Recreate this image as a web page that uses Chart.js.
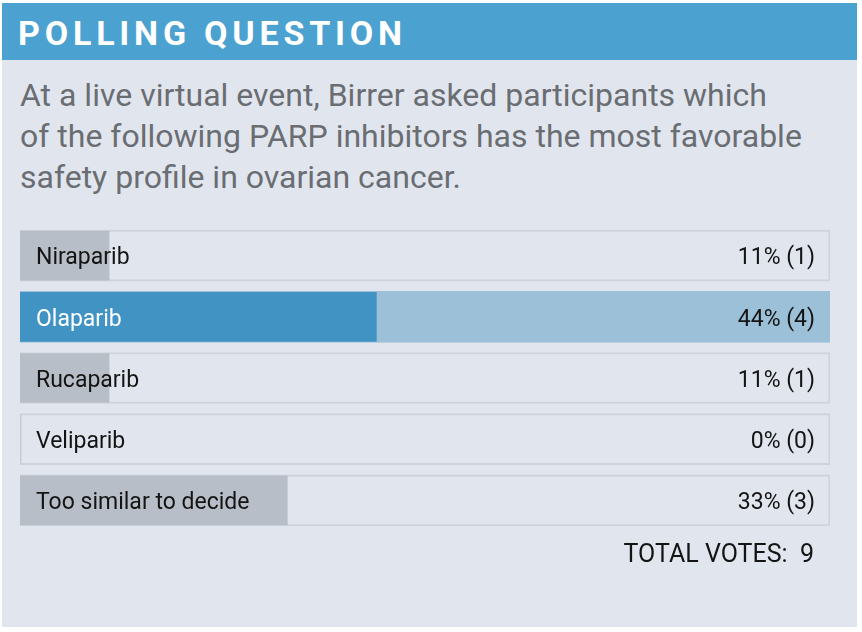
<!DOCTYPE html>
<html>
<head>
<meta charset="utf-8">
<script src="https://cdn.jsdelivr.net/npm/chart.js@4/dist/chart.umd.min.js"></script>
<style>
  body { margin: 0; background: #fff; width: 862px; height: 632px; overflow: hidden; font-family: Roboto, "Liberation Sans", sans-serif; }
  #panel { position: absolute; left: 2px; top: 3px; width: 855px; height: 624px; background: #e1e6ee; }
  #header { position: absolute; left: 2px; top: 3px; width: 855px; height: 57px; background: #4ba2d0; }
  #header span { position: absolute; left: 16px; top: 10px; font-size: 34px; font-weight: bold; color: #fff; letter-spacing: 4.8px; line-height: 40px; }
  #question { position: absolute; left: 20px; top: 75px; width: 835px; font-size: 32px; line-height: 41px; color: #6a6d72; white-space: nowrap; }
  #chart { position: absolute; left: 0; top: 0; }
</style>
</head>
<body>
<div id="panel"></div>
<div id="header"><span>POLLING QUESTION</span></div>
<div id="question">At a live virtual event, Birrer asked participants which<br>of the following PARP inhibitors has the most favorable<br>safety profile in ovarian cancer.</div>
<canvas id="chart" width="862" height="632"></canvas>
<script>
// 投票選項與結果
const options = ['Niraparib', 'Olaparib', 'Rucaparib', 'Veliparib', 'Too similar to decide'];
const percents = [11, 44, 11, 0, 33];
const votes = [1, 4, 1, 0, 3];
const totalVotes = 9;
const highlightIndex = 1;

const trackData = options.map(() => 100);

// 畫選項文字與百分比
const pollText = {
  id: 'pollText',
  afterDatasetsDraw(chart) {
    const ctx = chart.ctx;
    const yScale = chart.scales.y;
    const area = chart.chartArea;
    ctx.save();
    ctx.font = '23px Roboto, "Liberation Sans", sans-serif';
    ctx.textBaseline = 'middle';
    options.forEach((name, i) => {
      const y = yScale.getPixelForValue(i) + 3;
      ctx.fillStyle = i === highlightIndex ? '#ffffff' : '#141414';
      ctx.textAlign = 'left';
      ctx.fillText(name, area.left + 16, y);
      ctx.fillStyle = '#141414';
      ctx.textAlign = 'right';
      ctx.fillText(`${percents[i]}% (${votes[i]})`, area.right - 15, y);
    });
    ctx.font = '25px Roboto, "Liberation Sans", sans-serif';
    ctx.textAlign = 'right';
    ctx.fillText(`TOTAL VOTES:  ${totalVotes}`, area.right - 16, area.bottom + 25);
    ctx.restore();
  }
};

new Chart(document.getElementById('chart').getContext('2d'), {
  type: 'bar',
  data: {
    labels: options,
    datasets: [
      {
        label: 'percent',
        data: percents,
        backgroundColor: options.map((_, i) => i === highlightIndex ? '#4193c4' : '#b8bec7'),
        borderWidth: 0,
        barThickness: 49,
        grouped: false
      },
      {
        label: 'track',
        data: trackData,
        backgroundColor: options.map((_, i) => i === highlightIndex ? '#9cc0d7' : '#e1e6ee'),
        borderColor: options.map((_, i) => i === highlightIndex ? '#9cc0d7' : '#cfd3d9'),
        borderWidth: 2,
        borderSkipped: false,
        barThickness: 51,
        grouped: false
      }
    ]
  },
  options: {
    indexAxis: 'y',
    responsive: false,
    animation: false,
    layout: { padding: { left: 20, right: 32, top: 225, bottom: 101 } },
    plugins: { legend: { display: false }, tooltip: { enabled: false } },
    scales: {
      x: { display: false, min: 0, max: 100 },
      y: { display: false }
    }
  },
  plugins: [pollText]
});
</script>
</body>
</html>
